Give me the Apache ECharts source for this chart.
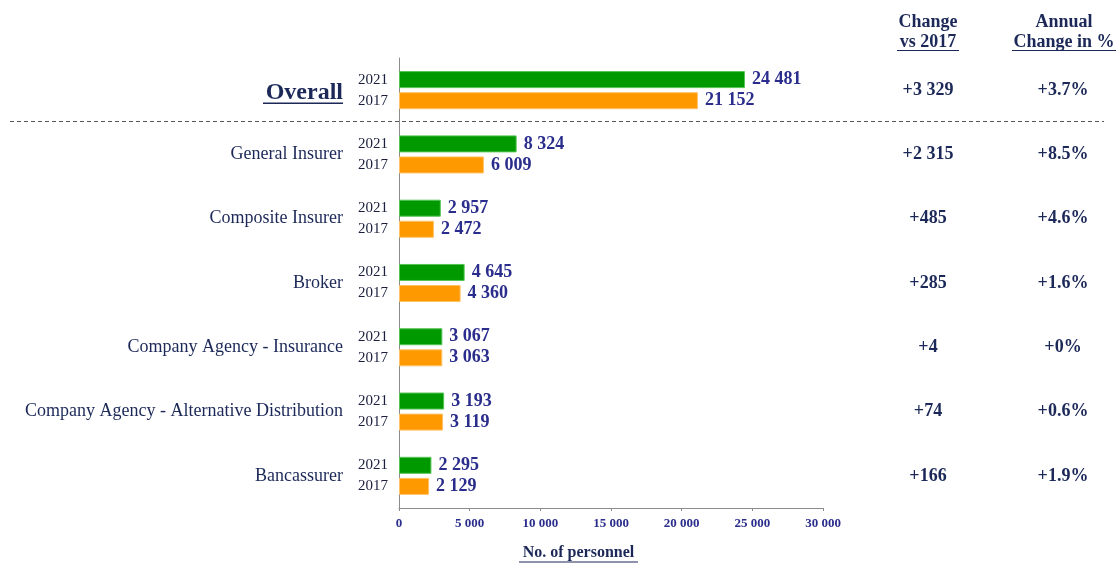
<!DOCTYPE html>
<html><head><meta charset="utf-8">
<script src="https://cdn.jsdelivr.net/npm/echarts@6/dist/echarts.min.js"></script>
<style>html,body{margin:0;padding:0;background:#fff}#c{width:1118px;height:563px}</style>
</head><body><div id="c"></div>
<script>
const categories = ['Overall','General Insurer','Composite Insurer','Broker','Company Agency - Insurance','Company Agency - Alternative Distribution','Bancassurer'];
const values2021 = [24481, 8324, 2957, 4645, 3067, 3193, 2295];
const values2017 = [21152, 6009, 2472, 4360, 3063, 3119, 2129];
const changeVs2017 = ['+3 329','+2 315','+485','+285','+4','+74','+166'];
const annualChange = ['+3.7%','+8.5%','+4.6%','+1.6%','+0%','+0.6%','+1.9%'];
const yearLabels = ['2021','2017'];
const xTicks = {min: 0, max: 30000, interval: 5000};

const SERIF = 'Liberation Serif';
const B = 700;
const NAVY = '#1B2858';
const VAL = '#2A2D8C';
const fmt = v => String(v).replace(/\B(?=(\d{3})+(?!\d))/g, ' ');
const zeros = categories.map(() => 0);

const chart = echarts.init(document.getElementById('c'), null, {renderer: 'canvas'});
const valueLabel = {show: true, position: 'right', distance: 7, formatter: p => fmt(p.value),
  fontFamily: SERIF, fontWeight: B, fontSize: 18, color: VAL};
const yearLabel = y => ({show: true, position: 'left', distance: 11, formatter: y,
  fontFamily: SERIF, fontSize: 15, color: '#1a1f3d'});

chart.setOption({
  animation: false,
  textStyle: {fontFamily: SERIF},
  grid: {left: 399, right: 295, top: 58, bottom: 55, containLabel: false, outerBoundsMode: 'none'},
  xAxis: {
    type: 'value', min: xTicks.min, max: xTicks.max, interval: xTicks.interval,
    splitLine: {show: false},
    axisLine: {show: true, lineStyle: {color: '#8c8c8c', width: 1}},
    axisTick: {show: true, length: 3, lineStyle: {color: '#8c8c8c'}},
    axisLabel: {formatter: v => fmt(v), fontFamily: SERIF, fontWeight: B, fontSize: 13, color: VAL, margin: 9},
    name: '{t|No. of personnel}\n{u|}', nameLocation: 'middle', nameGap: 36,
    nameTextStyle: {padding: [0, 65, 0, 0], rich: {
      t: {fontFamily: SERIF, fontWeight: B, fontSize: 16, color: NAVY, lineHeight: 17},
      u: {width: 119, height: 1, backgroundColor: NAVY, lineHeight: 2}
    }}
  },
  yAxis: [{
    type: 'category', data: categories, inverse: true,
    axisLine: {show: true, lineStyle: {color: '#8c8c8c', width: 1}},
    axisTick: {show: false},
    axisLabel: {margin: 56, formatter: v => v === 'Overall' ? '{ov|Overall}\n{ul|}' : '{c|' + v + '}',
      rich: {
        ov: {fontFamily: SERIF, fontWeight: B, fontSize: 24, color: NAVY, lineHeight: 26, padding: [8, 0, 0, 0]},
        ul: {width: 80, height: 1.5, backgroundColor: NAVY, lineHeight: 2},
        c: {fontFamily: SERIF, fontSize: 18, color: NAVY}
      }}
  }, {
    type: 'category', data: categories, inverse: true, position: 'right',
    axisLine: {show: false}, axisTick: {show: false},
    axisLabel: {margin: 8, align: 'left',
      formatter: (v, i) => '{a|' + changeVs2017[i] + '}{b|' + annualChange[i] + '}',
      rich: {
        a: {width: 194, align: 'center', fontFamily: SERIF, fontWeight: B, fontSize: 18, color: NAVY},
        b: {width: 76, align: 'center', fontFamily: SERIF, fontWeight: B, fontSize: 18, color: NAVY}
      }}
  }],
  series: [
    {type: 'bar', stack: 'g', data: zeros, barWidth: 17, itemStyle: {color: 'transparent'}, label: yearLabel(yearLabels[0]), silent: true},
    {type: 'bar', stack: 'g', name: '2021', data: values2021, barWidth: 17,
      itemStyle: {color: '#009900', borderColor: '#55c455', borderWidth: 1}, label: valueLabel},
    {type: 'bar', stack: 'o', data: zeros, barWidth: 17, itemStyle: {color: 'transparent'}, label: yearLabel(yearLabels[1]), silent: true},
    {type: 'bar', stack: 'o', name: '2017', data: values2017, barWidth: 17, barGap: '24%',
      itemStyle: {color: '#FF9900', borderColor: '#ffc266', borderWidth: 1}, label: valueLabel}
  ],
  graphic: [
    {type: 'line', shape: {x1: 10, y1: 121.5, x2: 1104, y2: 121.5}, style: {stroke: '#555', lineWidth: 1, lineDash: [4, 3]}},
    {type: 'text', x: 928, y: 22, style: {text: 'Change', textAlign: 'center', textVerticalAlign: 'middle', fontFamily: SERIF, fontWeight: B, fontSize: 18, fill: NAVY}},
    {type: 'text', x: 928, y: 42, style: {text: 'vs 2017', textAlign: 'center', textVerticalAlign: 'middle', fontFamily: SERIF, fontWeight: B, fontSize: 18, fill: NAVY}},
    {type: 'line', shape: {x1: 897, y1: 50.5, x2: 959, y2: 50.5}, style: {stroke: NAVY, lineWidth: 1}},
    {type: 'text', x: 1064, y: 22, style: {text: 'Annual', textAlign: 'center', textVerticalAlign: 'middle', fontFamily: SERIF, fontWeight: B, fontSize: 18, fill: NAVY}},
    {type: 'text', x: 1064, y: 42, style: {text: 'Change in %', textAlign: 'center', textVerticalAlign: 'middle', fontFamily: SERIF, fontWeight: B, fontSize: 18, fill: NAVY}},
    {type: 'line', shape: {x1: 1012, y1: 50.5, x2: 1116, y2: 50.5}, style: {stroke: NAVY, lineWidth: 1}}
  ]
});
</script></body></html>
